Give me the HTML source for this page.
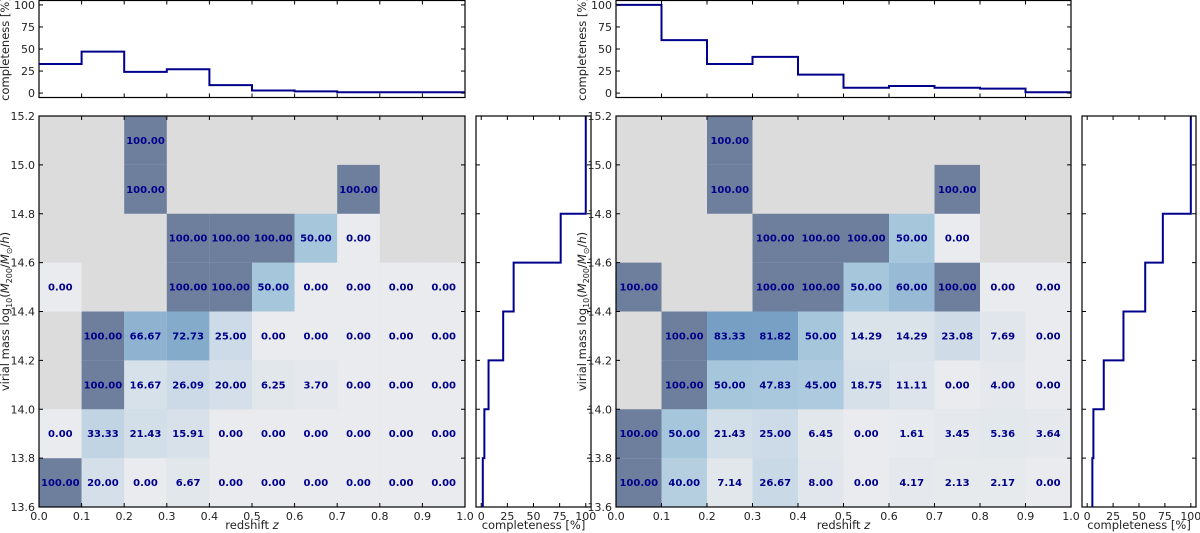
<!DOCTYPE html>
<html><head><meta charset="utf-8"><style>
body{margin:0;background:#fff;}
svg{display:block;font-family:"DejaVu Sans","Liberation Sans",sans-serif;}
</style></head><body>
<svg id="c" width="1200" height="533" viewBox="0 0 1200 533"></svg>
<script>
const xEdges=[0,0.1,0.2,0.3,0.4,0.5,0.6,0.7,0.8,0.9,1.0];
const massEdges=[13.6,13.8,14.0,14.2,14.4,14.6,14.8,15.0,15.2];
const xTickLabels=["0.0","0.1","0.2","0.3","0.4","0.5","0.6","0.7","0.8","0.9","1.0"];
const yTickLabels=["13.6","13.8","14.0","14.2","14.4","14.6","14.8","15.0","15.2"];
const compTicks=[0,25,50,75,100];
const N=null;
const leftGrid=[
[100,20,0,6.67,0,0,0,0,0,0],
[0,33.33,21.43,15.91,0,0,0,0,0,0],
[N,100,16.67,26.09,20,6.25,3.70,0,0,0],
[N,100,66.67,72.73,25,0,0,0,0,0],
[0,N,N,100,100,50,0,0,0,0],
[N,N,N,100,100,100,50,0,N,N],
[N,N,100,N,N,N,N,100,N,N],
[N,N,100,N,N,N,N,N,N,N]];
const rightGrid=[
[100,40,7.14,26.67,8,0,4.17,2.13,2.17,0],
[100,50,21.43,25,6.45,0,1.61,3.45,5.36,3.64],
[N,100,50,47.83,45,18.75,11.11,0,4,0],
[N,100,83.33,81.82,50,14.29,14.29,23.08,7.69,0],
[100,N,N,100,100,50,60,100,0,0],
[N,N,N,100,100,100,50,0,N,N],
[N,N,100,N,N,N,N,100,N,N],
[N,N,100,N,N,N,N,N,N,N]];
const leftTop=[33,47,24,27,9,3,2,1,1,1];
const rightTop=[100,60,33,41,21,6,8,6,5,1];
const leftSide=[1.5,3,7,21,31,76,100,100];
const rightSide=[5,6,16,35,56,73,100,100];

const svg=document.getElementById('c');
const NS='http://www.w3.org/2000/svg';
function el(tag,attrs,parent){const e=document.createElementNS(NS,tag);for(const k in attrs)e.setAttribute(k,attrs[k]);(parent||svg).appendChild(e);return e;}
function txt(s,attrs,parent){const e=el('text',attrs,parent);e.textContent=s;return e;}
const stops=[[0,[233,235,238]],[20,[212,223,233]],[50,[166,198,220]],[82,[120,160,196]],[99.9,[112,140,180]],[100,[110,127,158]]];
function col(v){for(let i=1;i<stops.length;i++){if(v<=stops[i][0]){const a=stops[i-1],b=stops[i];const t=(v-a[0])/(b[0]-a[0]);return 'rgb('+a[1].map((c,j)=>Math.round(c+(b[1][j]-c)*t)).join(',')+')';}}return 'rgb(110,127,158)';}

function panel(name,L,R,SL,SR,grid,top,side){
 const T=116,B=507;
 const sx=v=>L+(v-xEdges[0])/(xEdges[10]-xEdges[0])*(R-L);
 const sy=v=>B-(v-massEdges[0])/(massEdges[8]-massEdges[0])*(B-T);
 const g=el('g',{});
 
 
 el('rect',{x:L,y:T,width:R-L,height:B-T,fill:'#dcdcdc'},g);
 for(let r=0;r<grid.length;r++)for(let c=0;c<10;c++){const v=grid[r][c];if(v===null)continue;
  const x0=sx(xEdges[c]),x1=sx(xEdges[c+1]),y0=sy(massEdges[r+1]),y1=sy(massEdges[r]);
  const cell=el('rect',{x:x0,y:y0,width:x1-x0,height:y1-y0,fill:col(v)},g);
  
  
  const t=txt(v.toFixed(2),{x:(x0+x1)/2,y:(y0+y1)/2+3.5,'text-anchor':'middle','font-size':'10','font-weight':'bold',fill:'#00008b'},g);
  
  }
 el('rect',{x:L,y:T,width:R-L,height:B-T,fill:'none',stroke:'#000','stroke-width':1.2},g);
 xEdges.forEach((v,i)=>{const x=sx(v);el('line',{x1:x,x2:x,y1:B,y2:B-4,stroke:'#000'},g);el('line',{x1:x,x2:x,y1:T,y2:T+4,stroke:'#000'},g);
  txt(xTickLabels[i],{x:x,y:B+13,'text-anchor':'middle','font-size':'11',fill:'#222'},g);});
 massEdges.forEach((v,i)=>{const y=sy(v);el('line',{x1:L,x2:L+4,y1:y,y2:y,stroke:'#000'},g);el('line',{x1:R,x2:R-4,y1:y,y2:y,stroke:'#000'},g);
  txt(yTickLabels[i],{x:L-4,y:y+4,'text-anchor':'end','font-size':'11',fill:'#222'},g);});
 const xl=txt('redshift ',{x:(L+R)/2,y:529,'text-anchor':'middle','font-size':'11.5',fill:'#222'},g);
 
 const ts=el('tspan',{'font-style':'italic'},xl);ts.textContent='z';
 const yl=el('text',{transform:'translate('+(L-30)+','+((T+B)/2)+') rotate(-90)','text-anchor':'middle','font-size':'11.5',fill:'#222'},g);
 
 [['virial mass log',{}],['10',{'font-size':'8','dy':'3'}],['(',{'dy':'-3'}],['M',{'font-style':'italic'}],['200',{'font-size':'8','dy':'3'}],['/',{'dy':'-3'}],['M',{'font-style':'italic'}],['⊙',{'font-size':'8','dy':'3'}],['/',{'dy':'-3'}],['h',{'font-style':'italic'}],[')',{}]].forEach(([s,a])=>{const sp=el('tspan',a,yl);sp.textContent=s;});
 // top histogram
 const HT=0.5,HB=97.5;const hy=v=>HB-(v+5)/110*(HB-HT);
 const gt=el('g',{});
 
 
 el('rect',{x:L,y:HT,width:R-L,height:HB-HT,fill:'none',stroke:'#000','stroke-width':1.2},gt);
 let d='';top.forEach((v,i)=>{d+=(i?'L':'M')+sx(xEdges[i])+','+hy(v)+'L'+sx(xEdges[i+1])+','+hy(v);});
 const p=el('path',{d:d,fill:'none',stroke:'#00008b','stroke-width':2},gt);
 
 compTicks.forEach(v=>{const y=hy(v);el('line',{x1:L,x2:L+4,y1:y,y2:y,stroke:'#000'},gt);el('line',{x1:R,x2:R-4,y1:y,y2:y,stroke:'#000'},gt);
  txt(String(v),{x:L-4,y:y+4,'text-anchor':'end','font-size':'11',fill:'#222'},gt);});
 xEdges.forEach(v=>{const x=sx(v);el('line',{x1:x,x2:x,y1:HB,y2:HB-4,stroke:'#000'},gt);el('line',{x1:x,x2:x,y1:HT,y2:HT+4,stroke:'#000'},gt);});
 const tl=txt('completeness [%]',{transform:'translate('+(L-30)+','+((HT+HB)/2)+') rotate(-90)','text-anchor':'middle','font-size':'11.5',fill:'#222'},gt);
 
 // side histogram
 const hx=v=>SL+(v+5)/110*(SR-SL);
 const gs=el('g',{});
 
 
 el('rect',{x:SL,y:T,width:SR-SL,height:B-T,fill:'none',stroke:'#000','stroke-width':1.2},gs);
 let d2='';side.forEach((v,i)=>{d2+=(i?'L':'M')+hx(v)+','+sy(massEdges[i])+'L'+hx(v)+','+sy(massEdges[i+1]);});
 const p2=el('path',{d:d2,fill:'none',stroke:'#00008b','stroke-width':2},gs);
 
 compTicks.forEach(v=>{const x=hx(v);el('line',{x1:x,x2:x,y1:B,y2:B-4,stroke:'#000'},gs);el('line',{x1:x,x2:x,y1:T,y2:T+4,stroke:'#000'},gs);
  txt(String(v),{x:x,y:B+13,'text-anchor':'middle','font-size':'11',fill:'#222'},gs);});
 massEdges.forEach(v=>{const y=sy(v);el('line',{x1:SL,x2:SL+4,y1:y,y2:y,stroke:'#000'},gs);el('line',{x1:SR,x2:SR-4,y1:y,y2:y,stroke:'#000'},gs);});
 const sl=txt('completeness [%]',{x:(SL+SR)/2,y:529,'text-anchor':'middle','font-size':'11.5',fill:'#222'},gs);
 
}
panel('left',39,465,476,591,leftGrid,leftTop,leftSide);
panel('right',616,1071,1082,1196,rightGrid,rightTop,rightSide);
</script>
</body></html>
